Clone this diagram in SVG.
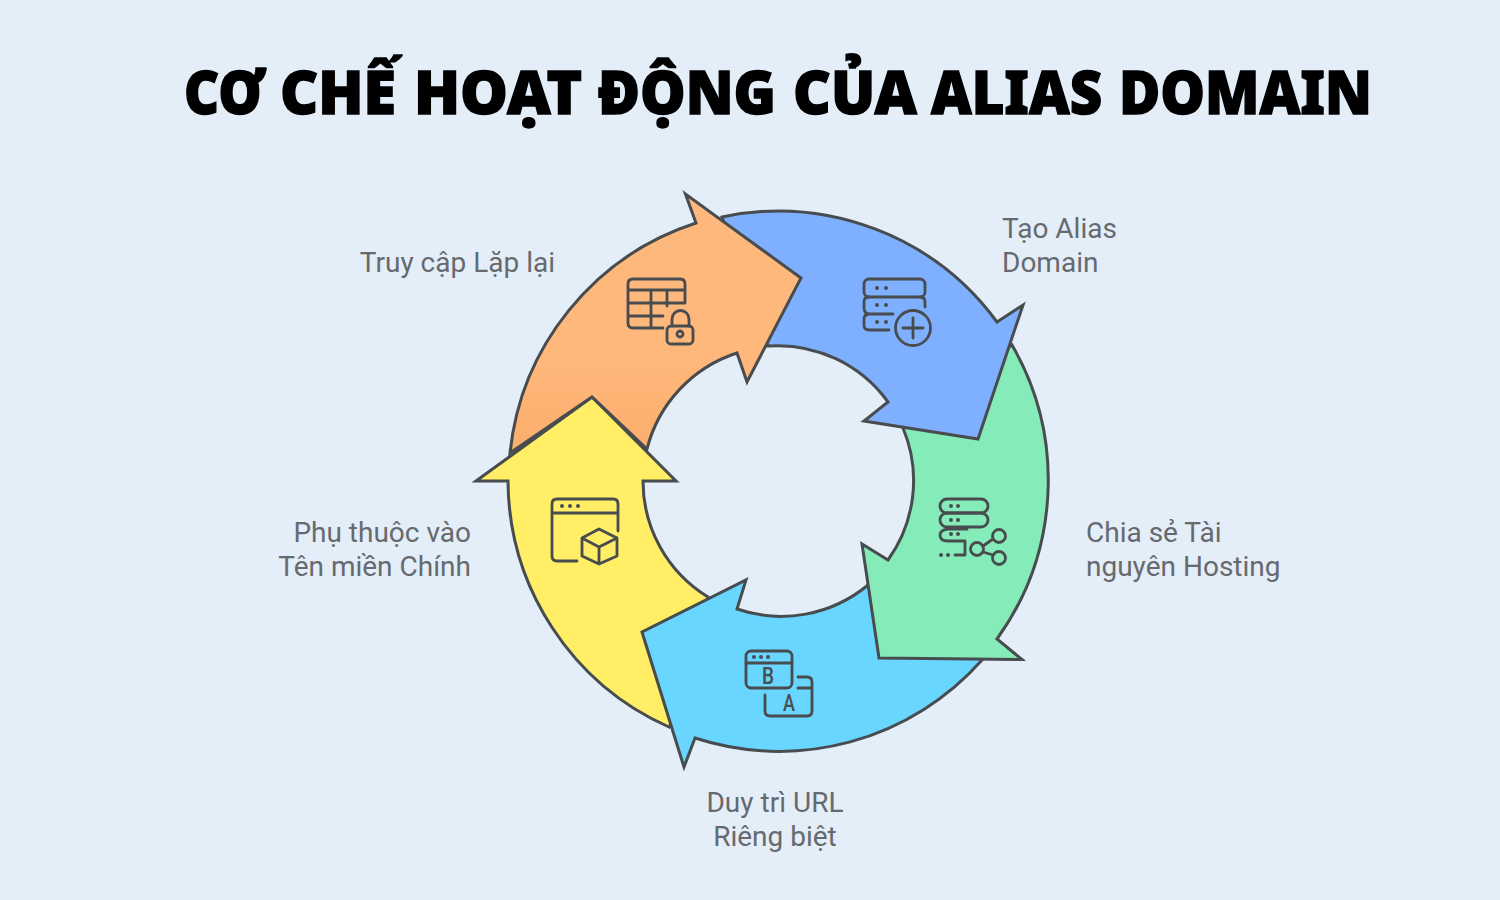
<svg xmlns="http://www.w3.org/2000/svg" width="1500" height="900" viewBox="0 0 1500 900">
<style>
.a{stroke:#484c4f;stroke-width:3;stroke-linejoin:miter;stroke-miterlimit:10}
.i{fill:none;stroke:#484c4f;stroke-width:2.8;stroke-linecap:round;stroke-linejoin:round}
.d{fill:#484c4f}
.l{font-family:Roboto,"Noto Sans",sans-serif;font-size:28px;fill:#666a6e}
.g{font-family:Roboto,"Noto Sans",sans-serif;font-weight:500;font-size:23px;fill:#484c4f;text-anchor:middle}
.t{font-family:"Noto Sans","Open Sans",sans-serif;font-weight:900;font-size:60px;fill:#000;stroke:#000;stroke-width:1.4}
</style>
<defs>
<linearGradient id="og" x1="0" y1="0" x2="0" y2="1"><stop offset="0.6" stop-color="#FFB87C"/><stop offset="1" stop-color="#FBAE6C"/></linearGradient>
</defs>
<rect width="1500" height="900" fill="#E3EEF9"/>
<text class="t" y="114"><tspan x="184" textLength="80" lengthAdjust="spacingAndGlyphs">CƠ</tspan> <tspan x="280" textLength="116" lengthAdjust="spacingAndGlyphs">CHẾ</tspan> <tspan x="414" textLength="168" lengthAdjust="spacingAndGlyphs">HOẠT</tspan> <tspan x="598" textLength="178" lengthAdjust="spacingAndGlyphs">ĐỘNG</tspan> <tspan x="793" textLength="124" lengthAdjust="spacingAndGlyphs">CỦA</tspan> <tspan x="931" textLength="171" lengthAdjust="spacingAndGlyphs">ALIAS</tspan> <tspan x="1119" textLength="253" lengthAdjust="spacingAndGlyphs">DOMAIN</tspan></text>
<g id="connectors">
<path id="arrow-yellow" class="a" fill="#FFEE66" d="M476 481L592 397L676 481H643A136 136 0 0 0 708 597L700 680L669 727A271 271 0 0 1 508 481Z"/>
<path id="arrow-cyan" class="a" fill="#69D6FF" d="M868 585A136 136 0 0 1 737 609L746 580L642 632L684 767L695 738A271 271 0 0 0 982 660L930 600Z"/>
<path id="arrow-green" class="a" fill="#85EBB8" d="M903 428A136 136 0 0 1 888 560L862 544L879 658L1022 659.500L997 639A271 271 0 0 0 1012 345L960 380Z"/>
<path id="arrow-blue" class="a" fill="#7EB0FF" d="M768 346A136 136 0 0 1 888 402L864 421L978 439L1023 305L997 322A271 271 0 0 0 722 217L750 290Z"/>
<path id="arrow-orange" class="a" fill="url(#og)" d="M510 453A271 271 0 0 1 696 223L685.500 194L801 278L747 382L737 353A136 136 0 0 0 647 449L592 397Z"/>
</g>
<g id="node-tao-alias">
<text class="l" x="1002" y="238">Tạo Alias</text>
<text class="l" x="1002" y="272">Domain</text>
<rect class="i" x="864" y="279" width="61" height="18" rx="5"/>
<path class="i" d="M869 297Q864 297 864 302V308Q864 314 870 314H893M869 330H889M870 314Q864 314 864 319V325Q864 330 869 330M920 297Q925 297 925 302V307"/>
<circle class="i" cx="913" cy="328" r="17.5"/>
<path class="i" d="M903 328H923M913 318V338"/>
<circle class="d" cx="877" cy="288" r="2"/><circle class="d" cx="886" cy="288" r="2"/>
<circle class="d" cx="877" cy="305" r="2"/><circle class="d" cx="886" cy="305" r="2"/>
<circle class="d" cx="877" cy="322" r="2"/><circle class="d" cx="886" cy="322" r="2"/>
</g>
<g id="node-chia-se">
<text class="l" x="1086" y="542">Chia sẻ Tài</text>
<text class="l" x="1086" y="576">nguyên Hosting</text>
<rect class="i" x="940" y="499" width="48" height="14" rx="7"/>
<rect class="i" x="940" y="513" width="48" height="14" rx="7"/>
<path class="i" d="M948 529Q940 530 940 535Q940 541 948 541H965V555H955M948 529H967"/>
<circle class="d" cx="941" cy="555" r="2"/><circle class="d" cx="948" cy="555" r="2"/>
<circle class="d" cx="951" cy="506" r="2"/><circle class="d" cx="958" cy="506" r="2"/>
<circle class="d" cx="951" cy="520" r="2"/><circle class="d" cx="958" cy="520" r="2"/>
<circle class="d" cx="951" cy="534" r="2"/><circle class="d" cx="958" cy="534" r="2"/>
<circle class="i" cx="977" cy="549" r="6.5"/><circle class="i" cx="999" cy="536" r="6.5"/><circle class="i" cx="999" cy="558" r="6.5"/>
<path class="i" d="M983 546L993 539M983 552L993 555"/>
</g>
<g id="node-duy-tri">
<text class="l" x="775" y="812" text-anchor="middle">Duy trì URL</text>
<text class="l" x="775" y="846" text-anchor="middle">Riêng biệt</text>
<rect class="i" x="746" y="651" width="46" height="37" rx="5"/>
<path class="i" d="M746 663H792M798 677H807Q812 677 812 682V711Q812 716 807 716H770Q765 716 765 711V695M798 688H812"/>
<circle class="d" cx="754" cy="657" r="2"/><circle class="d" cx="761" cy="657" r="2"/><circle class="d" cx="768" cy="657" r="2"/>
<text class="g" x="768" y="684" textLength="12" lengthAdjust="spacingAndGlyphs">B</text>
<text class="g" x="789" y="711" textLength="12" lengthAdjust="spacingAndGlyphs">A</text>
</g>
<g id="node-phu-thuoc">
<text class="l" x="471" y="542" text-anchor="end">Phụ thuộc vào</text>
<text class="l" x="471" y="576" text-anchor="end">Tên miền Chính</text>
<path class="i" d="M618 531V504Q618 499 613 499H557Q552 499 552 504V556Q552 561 557 561H577M552 513H618"/>
<circle class="d" cx="562" cy="506" r="2"/><circle class="d" cx="570" cy="506" r="2"/><circle class="d" cx="578" cy="506" r="2"/>
<path class="i" d="M599 529L617 538V556L599 564L582 556V538ZM582 538L599 547L617 538M599 547V564"/>
</g>
<g id="node-truy-cap">
<text class="l" x="555" y="272" text-anchor="end">Truy cập Lặp lại</text>
<path class="i" d="M685 303V284Q685 279 680 279H633Q628 279 628 284V323Q628 328 633 328H663M628 290H685M651 290V328M667 290V306M628 303H685M628 316H663"/>
<rect class="i" x="667" y="326" width="26" height="18" rx="4"/>
<path class="i" d="M672 326V319A8.500 8.500 0 0 1 689 319V326"/>
<circle class="i" cx="680" cy="334" r="3"/>
</g>
</svg>
